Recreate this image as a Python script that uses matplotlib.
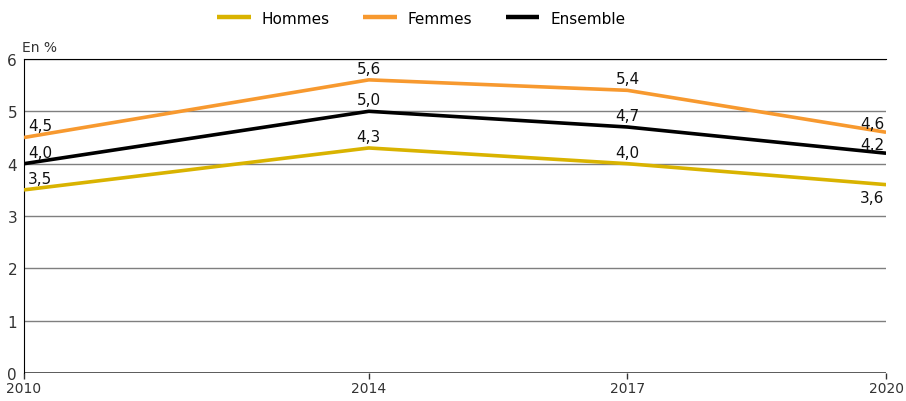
import matplotlib
matplotlib.use("Agg")
import matplotlib.pyplot as plt

plt.rcParams['font.family'] = ['DejaVu Sans']

annees = [2010, 2014, 2017, 2020]
hommes = [3.5, 4.3, 4.0, 3.6]
femmes = [4.5, 5.6, 5.4, 4.6]
ensemble = [4.0, 5.0, 4.7, 4.2]

series = [
    ("Hommes", hommes, "#D9B300"),
    ("Femmes", femmes, "#F7992F"),
    ("Ensemble", ensemble, "#000000"),
]

fig = plt.figure(figsize=(9.06, 4.02), dpi=100)
ax = fig.add_axes([0.0265, 0.069, 0.9515, 0.782])

for nom, vals, col in series:
    ax.plot(annees, vals, color=col, lw=2.6, label=nom, solid_capstyle='butt', zorder=3)

def fmt(v):
    return f"{v:.1f}".replace(".", ",")

# étiquettes de valeurs
fs = 11
for nom, vals, col in series:
    for i, (x, v) in enumerate(zip(annees, vals)):
        if i == 0:
            ax.annotate(fmt(v), (x, v), xytext=(3, 3), textcoords="offset points",
                        ha="left", va="bottom", fontsize=fs, color='#111111')
        elif i == len(annees) - 1:
            if nom == "Hommes":
                ax.annotate(fmt(v), (x, v), xytext=(-1, -4), textcoords="offset points",
                            ha="right", va="top", fontsize=fs, color='#111111')
            else:
                ax.annotate(fmt(v), (x, v), xytext=(-1, 1), textcoords="offset points",
                            ha="right", va="bottom", fontsize=fs, color='#111111')
        else:
            ax.annotate(fmt(v), (x, v), xytext=(0, 3), textcoords="offset points",
                        ha="center", va="bottom", fontsize=fs, color='#111111')

ax.set_xlim(2010, 2020)
ax.set_ylim(0, 6)
ax.set_xticks(annees)
ax.set_yticks(range(0, 7))
ax.tick_params(axis='x', length=4, width=1, pad=1.5, labelsize=10, colors='#333333')
ax.tick_params(axis='y', length=0, pad=5, labelsize=11, colors='#333333')
ax.grid(axis='y', color='#7f7f7f', lw=1)
ax.set_axisbelow(True)
for s in ['right', 'bottom']:
    ax.spines[s].set_visible(False)
ax.spines['left'].set_color('black')
ax.spines['top'].set_color('black')
ax.axhline(0, color='#444444', lw=1.2, zorder=2)

ax.text(-0.002, 1.015, "En %", transform=ax.transAxes, fontsize=10, color='#333333',
        ha='left', va='bottom')

fig.legend(loc='upper center', bbox_to_anchor=(0.465, 1.005), ncol=3, frameon=False,
           fontsize=11, handlelength=2.2, columnspacing=2.2, handletextpad=0.7)
for line in fig.legends[0].get_lines():
    line.set_linewidth(3.2)

fig.savefig("out.png", dpi=100)
